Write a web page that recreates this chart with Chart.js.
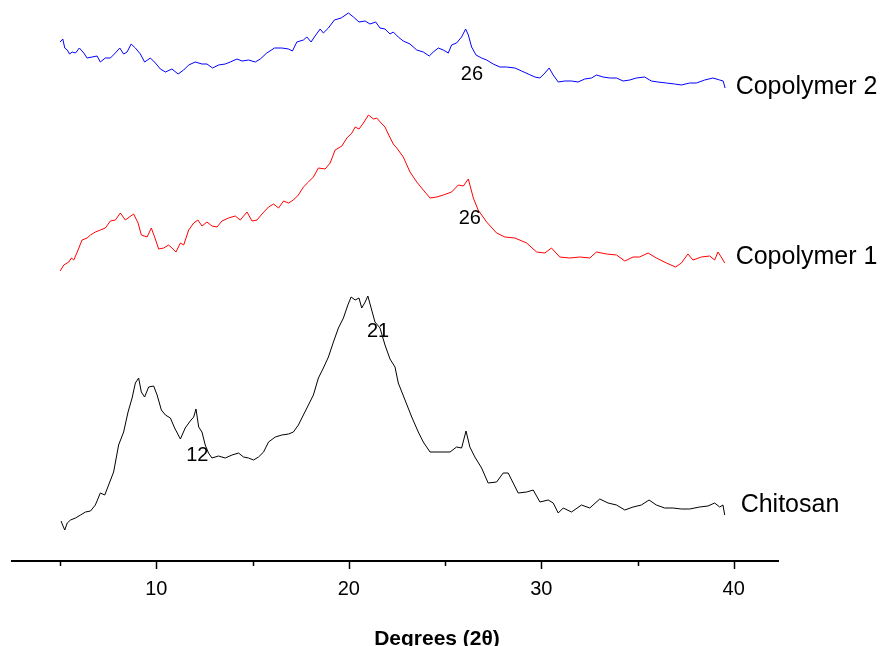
<!DOCTYPE html>
<html>
<head>
<meta charset="utf-8">
<script src="https://cdn.jsdelivr.net/npm/chart.js@4.4.1/dist/chart.umd.min.js"></script>
<style>
  html, body { margin: 0; padding: 0; background: #ffffff; }
  #wrap { position: relative; width: 883px; height: 646px; }
</style>
</head>
<body>
<div id="wrap"><canvas id="xrdChart" width="883" height="646"></canvas></div>
<script>
// XRD patterns (offset stacked, intensity in a.u.)

// Copolymer 2 (blue, top)
const copo2Theta = [5.00,5.14,5.24,5.37,5.49,5.63,5.80,6.00,6.23,6.40,6.66,6.92,7.09,7.35,7.61,7.87,8.10,8.30,8.48,8.69,
  8.91,9.17,9.39,9.69,9.95,10.21,10.47,10.81,11.13,11.42,11.68,12.02,12.37,12.63,12.92,13.23,13.58,13.84,14.19,14.45,
  14.79,15.14,15.40,15.74,16.14,16.52,16.87,17.07,17.30,17.64,17.82,18.04,18.21,18.51,18.68,18.94,19.25,19.60,19.98,20.24,
  20.53,20.85,21.10,21.40,21.62,21.88,22.14,22.31,22.57,22.83,23.18,23.53,23.87,24.18,24.39,24.65,24.91,25.17,25.34,25.60,
  25.86,26.07,26.21,26.38,26.61,26.90,27.16,27.50,27.85,28.20,28.63,28.98,29.32,29.67,29.93,30.19,30.41,30.62,30.88,31.22,
  31.57,31.91,32.26,32.61,32.87,33.21,33.56,33.91,34.25,34.60,34.94,35.37,35.72,36.06,36.50,36.93,37.28,37.71,38.06,38.49,
  38.92,39.27,39.45,39.55];
const copo2Int = [519,522,513,511,507,509,508,513,508,503,504,505,499,503,503,508,513,507,509,517,
  513,507,499,503,498,492,489,492,487,491,496,499,497,497,493,496,497,499,502,500,
  501,499,502,508,513,513,512,510,519,521,524,519,524,532,528,533,541,543,548,544,
  539,540,537,539,533,532,527,529,524,520,517,511,509,505,509,513,511,508,516,518,
  524,532,526,514,506,503,501,497,494,494,493,490,487,484,483,488,493,486,479,480,
  480,479,482,483,486,484,483,483,480,481,483,484,480,479,478,477,476,478,478,481,
  483,481,480,473];

// Copolymer 1 (red, middle)
const copo1Theta = [5.00,5.19,5.45,5.59,5.71,5.89,6.14,6.40,6.58,6.83,7.09,7.35,7.61,7.87,8.13,8.39,8.60,8.82,9.05,9.22,
  9.52,9.74,9.91,10.12,10.38,10.64,10.81,11.02,11.25,11.42,11.68,11.94,12.16,12.37,12.63,12.89,13.15,13.41,13.75,14.10,
  14.36,14.71,14.97,15.23,15.49,15.83,16.09,16.35,16.61,16.87,17.12,17.38,17.64,17.90,18.16,18.42,18.77,19.03,19.29,19.64,
  19.90,20.16,20.33,20.53,20.76,21.02,21.28,21.45,21.68,21.88,22.05,22.31,22.49,22.83,23.18,23.53,23.87,24.22,24.57,24.91,
  25.34,25.69,25.95,26.21,26.47,26.72,27.16,27.68,28.11,28.63,29.24,29.76,30.19,30.53,30.96,31.48,32.00,32.52,32.87,33.39,
  33.91,34.34,34.77,35.11,35.55,35.98,36.50,36.98,37.28,37.62,37.88,38.32,38.75,39.01,39.18,39.35,39.53];
const copo1Int = [290,296,299,303,301,309,321,323,326,329,331,333,340,341,348,341,344,347,338,326,
  324,333,324,312,313,316,313,309,318,316,331,338,341,335,339,335,334,340,343,345,
  341,349,340,341,347,354,357,353,360,358,361,366,374,379,384,393,392,398,411,415,
  423,428,434,432,438,446,442,443,438,434,427,417,413,404,389,379,371,363,364,366,
  369,376,375,382,363,351,339,328,324,323,318,309,308,313,304,303,304,303,309,307,
  306,300,304,304,308,303,298,294,298,307,301,304,305,301,309,304,298];

// Chitosan (black, bottom)
const chitosanTheta = [5.05,5.11,5.24,5.37,5.54,5.80,6.06,6.32,6.58,6.83,7.09,7.32,7.52,7.78,8.04,8.30,8.53,8.74,8.91,9.08,
  9.22,9.39,9.60,9.86,10.04,10.26,10.47,10.73,10.95,11.25,11.50,11.76,11.94,12.06,12.20,12.37,12.54,12.71,12.89,13.23,
  13.58,13.93,14.27,14.53,14.79,15.05,15.31,15.57,15.83,16.18,16.52,16.87,17.12,17.38,17.64,17.90,18.16,18.42,18.68,18.94,
  19.20,19.46,19.72,19.95,20.12,20.33,20.53,20.67,20.85,20.99,21.16,21.36,21.62,21.88,22.14,22.40,22.57,22.92,23.27,23.61,
  23.87,24.22,24.74,25.26,25.60,25.86,26.09,26.29,26.55,26.90,27.24,27.68,28.02,28.28,28.54,28.80,29.24,29.58,29.93,30.36,
  30.62,30.88,31.14,31.57,32.09,32.52,33.04,33.47,33.91,34.34,34.77,35.20,35.60,35.98,36.41,36.84,37.28,37.71,38.23,38.66,
  39.01,39.27,39.44,39.53];
const chitosanInt = [40,37,31,38,41,43,46,49,50,56,68,66,76,89,116,129,149,163,178,183,
  169,164,174,175,166,151,146,143,133,122,133,140,144,152,134,129,116,108,103,105,
  103,106,108,104,103,101,104,109,119,124,126,127,129,136,146,156,166,183,193,204,
  219,233,243,256,264,261,263,253,259,265,253,239,233,216,202,194,178,161,144,129,
  119,109,109,109,114,113,130,114,104,93,78,79,88,88,78,68,69,71,59,61,
  58,48,53,49,56,53,62,58,56,51,54,56,61,56,53,53,52,52,54,55,
  58,54,56,46];

// Axis ticks
const majorTicks = [10, 20, 30, 40];
const minorTicks = [5, 15, 25, 35];

// Peak labels: [text, 2theta, intensity]
const peakLabels = [
  ['26', 26.40, 487],
  ['26', 26.29, 343],
  ['21', 21.52, 230],
  ['12', 12.13, 106]
];

// Trace names: [text, 2theta, intensity]
const traceNames = [
  ['Copolymer 2', 40.10, 474],
  ['Copolymer 1', 40.10, 304],
  ['Chitosan', 40.36, 56]
];

const FONT = "'Liberation Sans', Arial, Helvetica, sans-serif";

function toPoints(xs, ys) {
  return xs.map((x, i) => ({ x: x, y: ys[i] }));
}

// Tick marks, peak numbers, trace names and axis title
const xrdDecor = {
  id: 'xrdDecor',
  afterDraw(chart) {
    const ctx = chart.ctx;
    const xs = chart.scales.x;
    const ys = chart.scales.y;
    const base = chart.chartArea.bottom;

    ctx.save();
    ctx.strokeStyle = '#000';
    ctx.lineWidth = 1.5;
    majorTicks.forEach(v => {
      const px = Math.round(xs.getPixelForValue(v)) + 0.5;
      ctx.beginPath(); ctx.moveTo(px, base); ctx.lineTo(px, base + 8); ctx.stroke();
    });
    minorTicks.forEach(v => {
      const px = Math.round(xs.getPixelForValue(v)) + 0.5;
      ctx.beginPath(); ctx.moveTo(px, base); ctx.lineTo(px, base + 5); ctx.stroke();
    });

    ctx.fillStyle = '#000';
    ctx.textBaseline = 'middle';
    ctx.font = '20px ' + FONT;
    ctx.textAlign = 'center';
    peakLabels.forEach(([t, x, y]) => {
      ctx.fillText(t, xs.getPixelForValue(x), ys.getPixelForValue(y));
    });

    ctx.font = '25px ' + FONT;
    ctx.textAlign = 'left';
    traceNames.forEach(([t, x, y]) => {
      ctx.fillText(t, xs.getPixelForValue(x), ys.getPixelForValue(y));
    });

    ctx.font = 'bold 21px ' + FONT;
    ctx.textAlign = 'center';
    ctx.textBaseline = 'alphabetic';
    ctx.fillText('Degrees (2\u03B8)', 437, 645);
    ctx.restore();
  }
};

const lineStyle = { borderWidth: 1, pointRadius: 0, tension: 0, fill: false };

new Chart(document.getElementById('xrdChart'), {
  type: 'line',
  data: {
    datasets: [
      { label: 'Copolymer 2', data: toPoints(copo2Theta, copo2Int), borderColor: '#0000FF', ...lineStyle },
      { label: 'Copolymer 1', data: toPoints(copo1Theta, copo1Int), borderColor: '#FF0000', ...lineStyle },
      { label: 'Chitosan', data: toPoints(chitosanTheta, chitosanInt), borderColor: '#000000', ...lineStyle }
    ]
  },
  options: {
    responsive: false,
    animation: false,
    layout: { padding: { left: 12, right: 105, top: 0, bottom: 0 } },
    plugins: { legend: { display: false }, tooltip: { enabled: false } },
    scales: {
      x: {
        type: 'linear',
        min: 2.5,
        max: 42.3,
        afterBuildTicks: (scale) => { scale.ticks = majorTicks.map(v => ({ value: v })); },
        afterFit: (scale) => { scale.height = 85; },
        grid: { display: false, drawTicks: false },
        border: { display: true, color: '#000', width: 2 },
        ticks: {
          autoSkip: false,
          maxRotation: 0,
          padding: 16,
          color: '#000',
          font: { family: FONT, size: 20 }
        }
      },
      y: {
        type: 'linear',
        min: 0,
        max: 561,
        display: false
      }
    }
  },
  plugins: [xrdDecor]
});
</script>
</body>
</html>
